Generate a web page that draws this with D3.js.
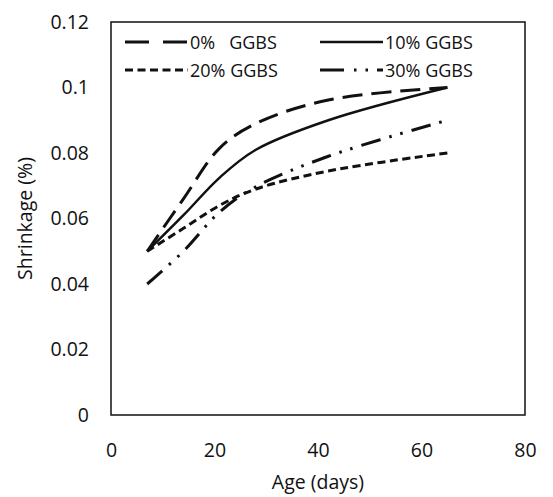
<!DOCTYPE html>
<html>
<head>
<meta charset="utf-8">
<script src="https://cdn.jsdelivr.net/npm/d3@7"></script>
<style>
  body { margin: 0; background: #fff; }
  text { font-family: "Open Sans", "Liberation Sans", sans-serif; fill: #111; }
</style>
</head>
<body>
<div id="chart"></div>
<script>
"use strict";

// age in days, shrinkage in %
var ages = [7, 14, 21, 28, 42, 65];
var ggbs0 = [0.05, 0.066, 0.0815, 0.089, 0.0962, 0.1];
var ggbs10 = [0.05, 0.061, 0.0725, 0.081, 0.090, 0.1];
var ggbs20 = [0.05, 0.057, 0.064, 0.069, 0.0745, 0.08];
var ggbs30 = [0.04, 0.050, 0.062, 0.0697, 0.079, 0.09];
var xTicks = [0, 20, 40, 60, 80];
var yTicks = [0, 0.02, 0.04, 0.06, 0.08, 0.1, 0.12];

var seriesNames = ["0%   GGBS", "10% GGBS", "20% GGBS", "30% GGBS"];
var seriesValues = [ggbs0, ggbs10, ggbs20, ggbs30];
var dashes = ["20,9", null, "8,4.5", "20,9,2.5,9,2.5,9"];
var widths = [3, 2.5, 3, 3];

var margin = { top: 22, right: 28, bottom: 82, left: 111 },
    width = 553 - margin.left - margin.right,
    height = 497 - margin.top - margin.bottom;

var svg = d3.select("#chart")
            .append("svg")
            .attr("width", 553)
            .attr("height", 497)
            .append("g")
            .attr("transform", "translate(" + margin.left + "," + margin.top + ")");

var xScale = d3.scaleLinear().domain([0, 80]).range([0, width]);
var yScale = d3.scaleLinear().domain([0, 0.12]).range([height, 0]);

// frame
svg.append("rect")
   .attr("width", width)
   .attr("height", height)
   .attr("fill", "none")
   .attr("stroke", "#111")
   .attr("stroke-width", 1.5);

var xAxis = svg.append("g")
   .attr("transform", "translate(0," + height + ")")
   .call(d3.axisBottom(xScale).tickValues(xTicks).tickSize(0).tickPadding(28));
var yAxis = svg.append("g")
   .call(d3.axisLeft(yScale).tickValues(yTicks).tickSize(0).tickPadding(22)
           .tickFormat(function(d) { return d === 0 ? "0" : String(+d.toFixed(2)); }));

[xAxis, yAxis].forEach(function(a) {
  a.select(".domain").remove();
  a.selectAll("text").style("font-size", "19.5px").style("font-family", "'Open Sans', sans-serif").attr("fill", "#111");
});

svg.append("text")
   .attr("x", width / 2)
   .attr("y", height + 74)
   .attr("text-anchor", "middle")
   .style("font-size", "19.5px")
   .text("Age (days)");

svg.append("text")
   .attr("transform", "translate(-79," + (height / 2) + ") rotate(-90)")
   .attr("text-anchor", "middle")
   .style("font-size", "19.5px")
   .text("Shrinkage (%)");

var line = d3.line()
  .x(function(d) { return xScale(d[0]); })
  .y(function(d) { return yScale(d[1]); })
  .curve(d3.curveCatmullRom.alpha(0.5));

seriesValues.forEach(function(vals, i) {
  var pts = ages.map(function(a, j) { return [a, vals[j]]; });
  svg.append("path")
     .datum(pts)
     .attr("d", line)
     .attr("fill", "none")
     .attr("stroke", "#111")
     .attr("stroke-width", widths[i])
     .attr("stroke-dasharray", dashes[i]);
});

// legend
var legendPos = [[14, 20], [209, 20], [14, 48], [209, 48]];
seriesNames.forEach(function(name, i) {
  var g = svg.append("g").attr("transform", "translate(" + legendPos[i][0] + "," + legendPos[i][1] + ")");
  g.append("line")
   .attr("x1", 0).attr("x2", 63)
   .attr("stroke", "#111")
   .attr("stroke-width", widths[i])
   .attr("stroke-dasharray", i === 0 ? "24,14" : (i === 3 ? "24,10,2.5,9,2.5,9" : dashes[i]));
  g.append("text")
   .attr("x", 65)
   .attr("y", 6.5)
   .style("font-size", "18px")
   .attr("xml:space", "preserve")
   .text(name);
});
</script>
</body>
</html>
